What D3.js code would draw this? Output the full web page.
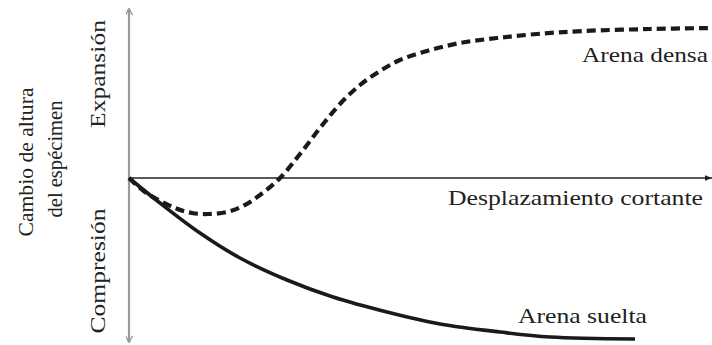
<!DOCTYPE html>
<html><head><meta charset="utf-8">
<script src="https://cdn.jsdelivr.net/npm/d3@7"></script>
<style>
html,body{margin:0;padding:0;background:#fff;}
svg{display:block;}
</style></head><body>
<div id="chart"></div>
<script>
// Shear displacement (arbitrary units) and change in specimen height (arbitrary units; + expansion, - compression)
const denseX = [0, 16, 46, 63, 79, 98, 114, 131, 151, 171, 191, 211, 231, 251, 271, 298, 331, 368, 408, 454, 521, 581];
const denseY = [0, -14, -30, -35, -36, -34, -28, -17, 0, 24, 50, 74, 93, 107, 118, 127, 135, 140, 144, 147, 149, 150];
const looseX = [0, 31, 71, 111, 158, 204, 258, 311, 371, 421, 506];
const looseY = [0, -25, -55, -80, -102, -119, -134, -146, -154, -159, -161];
const labels = {dense: "Arena densa", loose: "Arena suelta", xAxis: "Desplazamiento cortante",
  yAxis1: "Cambio de altura", yAxis2: "del espécimen", yUp: "Expansión", yDown: "Compresión"};

const FONT = "'Liberation Serif', 'Times New Roman', 'DejaVu Serif', serif";
const W = 712, H = 345;
const svg = d3.select("#chart").append("svg").attr("width", W).attr("height", H);

const x = d3.scaleLinear().domain([0, 583]).range([129, 712]);
const y = d3.scaleLinear().domain([-162, 170]).range([340, 8]);

const defs = svg.append("defs");
defs.append("marker").attr("id","garrow").attr("viewBox","0 0 10 10").attr("refX",9).attr("refY",5)
  .attr("markerWidth",7).attr("markerHeight",7).attr("orient","auto-start-reverse").attr("markerUnits","userSpaceOnUse")
  .append("path").attr("d","M0,0 L10,5 L0,10").attr("fill","none").attr("stroke","#999").attr("stroke-width",2);
defs.append("marker").attr("id","barrow").attr("viewBox","0 0 10 10").attr("refX",10).attr("refY",5)
  .attr("markerWidth",7).attr("markerHeight",7).attr("orient","auto").attr("markerUnits","userSpaceOnUse")
  .append("path").attr("d","M0,1 L10,5 L0,9 Z").attr("fill","#222");

// vertical axis (gray double arrow)
svg.append("line").attr("x1", x(0)).attr("x2", x(0)).attr("y1", y(-164)).attr("y2", y(169))
  .attr("stroke","#999").attr("stroke-width",2.2)
  .attr("marker-start","url(#garrow)").attr("marker-end","url(#garrow)");

// horizontal axis
svg.append("line").attr("x1", x(0)).attr("x2", x(583)).attr("y1", y(0)).attr("y2", y(0))
  .attr("stroke","#222").attr("stroke-width",1.5).attr("marker-end","url(#barrow)");

const line = d3.line().x(d => x(d[0])).y(d => y(d[1])).curve(d3.curveCatmullRom.alpha(0.5));

svg.append("path").datum(looseX.map((v,i)=>[v, looseY[i]]))
  .attr("d", line).attr("fill","none").attr("stroke","#1a1a1a").attr("stroke-width",3.6);

svg.append("path").datum(denseX.map((v,i)=>[v, denseY[i]]))
  .attr("d", line).attr("fill","none").attr("stroke","#1a1a1a").attr("stroke-width",4.2)
  .attr("stroke-dasharray","9,5");

function txt(t, px, py, len){
  return svg.append("text").attr("x",px).attr("y",py).attr("font-size",21)
    .attr("font-family", FONT).attr("fill","#222")
    .attr("textLength",len).attr("lengthAdjust","spacingAndGlyphs").text(t);
}
txt(labels.dense, 582, 62, 126);
txt(labels.xAxis, 448, 205, 255);
txt(labels.loose, 518, 323, 129);

function vtxt(t, cx, cy, len){
  svg.append("text").attr("transform",`translate(${cx},${cy}) rotate(-90)`)
    .attr("text-anchor","middle").attr("font-size",21)
    .attr("font-family", FONT).attr("fill","#222")
    .attr("textLength",len).attr("lengthAdjust","spacingAndGlyphs").text(t);
}
vtxt(labels.yAxis1, 33, 162, 149);
vtxt(labels.yAxis2, 62, 159, 117);
vtxt(labels.yUp, 105, 74, 108);
vtxt(labels.yDown, 105, 271, 125);
</script>
</body></html>
